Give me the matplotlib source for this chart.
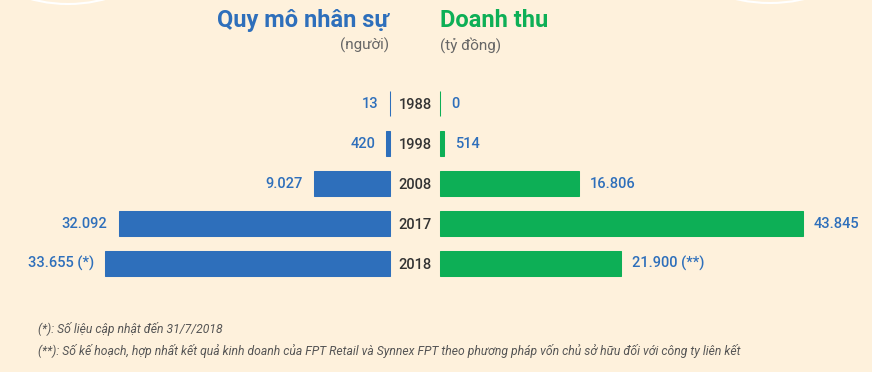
import matplotlib.pyplot as plt
from matplotlib.patches import Circle

# data
years = ['1988', '1998', '2008', '2017', '2018']
staff = [13, 420, 9027, 32092, 33655]
staff_labels = ['13', '420', '9.027', '32.092', '33.655 (*)']
revenue = [0, 514, 16806, 43845, 21900]
revenue_labels = ['0', '514', '16.806', '43.845', '21.900 (**)']

title_left = 'Quy mô nhân sự'
unit_left = '(người)'
title_right = 'Doanh thu'
unit_right = '(tỷ đồng)'
notes = ['(*): Số liệu cập nhật đến 31/7/2018',
         '(**): Số kế hoạch, hợp nhất kết quả kinh doanh của FPT Retail và Synnex FPT '
         'theo phương pháp vốn chủ sở hữu đối với công ty liên kết']

bg = '#FEF1DC'
blue = '#2E6FBB'
green = '#0DAF56'
W, H = 872, 372

plt.rcParams['font.family'] = ['Roboto', 'DejaVu Sans']

fig = plt.figure(figsize=(W / 100, H / 100), dpi=100, facecolor=bg)

def fx(px):
    return px / W

def fy(py):
    # py measured from the top
    return 1 - py / H

# decorative white arcs at the top
fig.patches.append(Circle((68, H + 138), 142, transform=None, fill=False,
                          edgecolor='white', lw=1.5))
fig.patches.append(Circle((770, H + 148), 151, transform=None, fill=False,
                          edgecolor='white', lw=1.5))

ax_bottom = fy(283.5)
ax_h = 200 / H
axl = fig.add_axes([0, ax_bottom, fx(390), ax_h])
axr = fig.add_axes([fx(440), ax_bottom, fx(432), ax_h])

rows = range(len(years))
axl.barh(rows, staff, height=0.625, color=blue, edgecolor=blue, lw=0.75, clip_on=False)
axr.barh(rows, revenue, height=0.625, color=green, edgecolor=green, lw=0.75, clip_on=False)

axl.set_xlim(390 / 0.00846, 0)
axr.set_xlim(0, 432 / 0.00827)
for a in (axl, axr):
    a.set_ylim(len(years) - 0.5, -0.5)
    a.axis('off')

for i in rows:
    axl.annotate(staff_labels[i], (staff[i], i), xytext=(-8, 0),
                 textcoords='offset points', ha='right', va='center',
                 fontsize=10.5, fontweight='medium', color=blue)
    axr.annotate(revenue_labels[i], (revenue[i], i), xytext=(8, 0),
                 textcoords='offset points', ha='left', va='center',
                 fontsize=10.5, fontweight='medium', color=blue)
    fig.text(fx(415), fy(105 + 40 * i), years[i], ha='center', va='center',
             fontsize=10.5, fontweight='medium', color='#333333')

fig.text(fx(389), fy(27), title_left, ha='right', va='baseline',
         fontsize=17, fontweight='bold', color=blue)
fig.text(fx(440), fy(27), title_right, ha='left', va='baseline',
         fontsize=17, fontweight='bold', color=green)
fig.text(fx(389), fy(45), unit_left, ha='right', va='center',
         fontsize=11, color='#666666')
fig.text(fx(440), fy(45), unit_right, ha='left', va='center',
         fontsize=11, color='#666666')

fig.text(fx(38), fy(329), notes[0], ha='left', va='center',
         fontsize=8.7, style='italic', color='#555555')
fig.text(fx(38), fy(351), notes[1], ha='left', va='center',
         fontsize=8.7, style='italic', color='#555555')

fig.savefig('out.png', dpi=100, facecolor=bg)
